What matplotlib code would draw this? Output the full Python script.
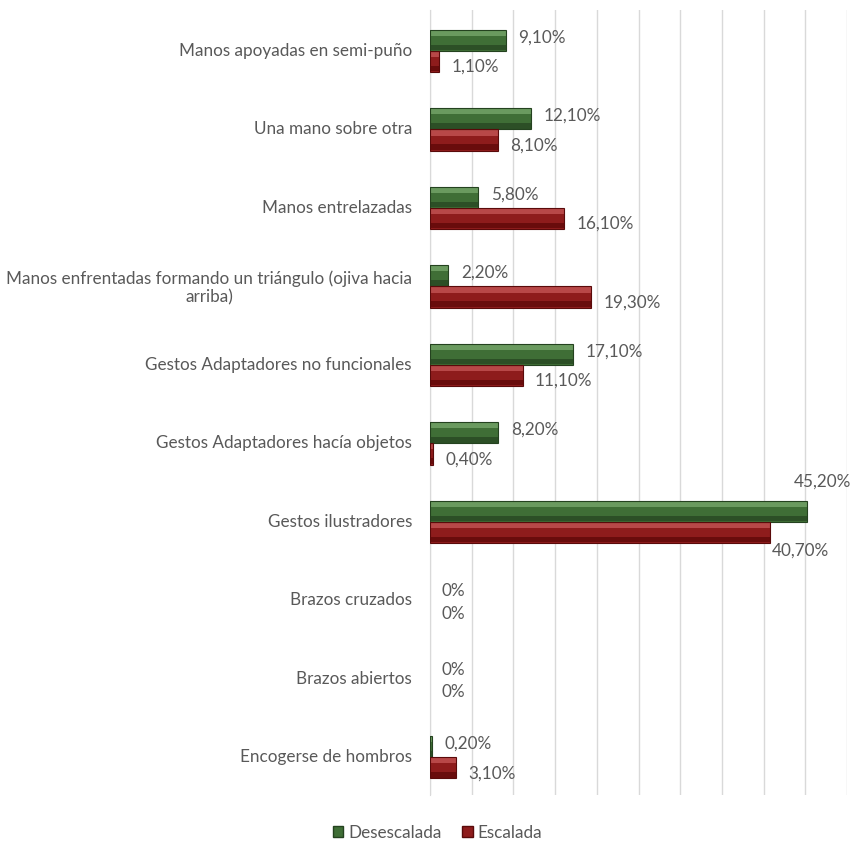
import matplotlib
matplotlib.use("Agg")
import matplotlib.pyplot as plt
import numpy as np
from matplotlib.patches import Patch

categories = [
    "Manos apoyadas en semi-puño",
    "Una mano sobre otra",
    "Manos entrelazadas",
    "Manos enfrentadas formando un triángulo (ojiva hacia\narriba)",
    "Gestos Adaptadores no funcionales",
    "Gestos Adaptadores hacía objetos",
    "Gestos ilustradores",
    "Brazos cruzados",
    "Brazos abiertos",
    "Encogerse de hombros",
]
desescalada = [9.1, 12.1, 5.8, 2.2, 17.1, 8.2, 45.2, 0.0, 0.0, 0.2]
escalada = [1.1, 8.1, 16.1, 19.3, 11.1, 0.4, 40.7, 0.0, 0.0, 3.1]
series_names = ["Desescalada", "Escalada"]

FONT = "Lato"
FS = 12.3
TXT = "#595959"

def fmt(v):
    if v == 0:
        return "0%"
    return f"{v:.2f}".replace(".", ",") + "%"

fig = plt.figure(figsize=(8.6, 8.43), dpi=100)
ax = fig.add_axes([0.5, 0.057, 0.485, 0.931])

y = np.arange(len(categories))
h = 0.27
styles = [
    (desescalada, -h / 2 + 0.02, ("#3f6e36", "#6a9a5f", "#2c4f26", "#24421f")),
    (escalada, h / 2 + 0.02, ("#8e1c1c", "#b84848", "#690c0c", "#5a0a0a")),
]
for vals, off, (mid, light, dark, edge) in styles:
    vals = np.asarray(vals)
    nz = vals > 0
    yy = (y + off)[nz]
    vv = vals[nz]
    ax.barh(yy, vv, height=h, color=mid, linewidth=0, zorder=3)
    # bevel: lighter top strip and darker bottom strip
    ax.barh(yy - h * 0.34, vv, height=h * 0.26, color=light, linewidth=0, zorder=4)
    ax.barh(yy + h * 0.34, vv, height=h * 0.26, color=dark, linewidth=0, zorder=4)
    ax.barh(yy, vv, height=h, color="none", edgecolor=edge, linewidth=0.8, zorder=5)

for i in range(len(categories)):
    dv, ev = desescalada[i], escalada[i]
    gy = y[i] - h / 2 + 0.02
    ry = y[i] + h / 2 + 0.02
    if dv > 40:
        ax.annotate(fmt(dv), (dv, gy), xytext=(11, 21), textcoords="offset points",
                    ha="center", va="center", fontsize=FS, color=TXT, family=FONT)
    elif dv == 0:
        ax.annotate(fmt(dv), (dv, gy), xytext=(8, -1), textcoords="offset points",
                    ha="left", va="center", fontsize=FS, color=TXT, family=FONT)
    else:
        ax.annotate(fmt(dv), (dv, gy), xytext=(9, 2), textcoords="offset points",
                    ha="left", va="center", fontsize=FS, color=TXT, family=FONT)
    if ev > 40:
        ax.annotate(fmt(ev), (ev, ry), xytext=(2, -13), textcoords="offset points",
                    ha="left", va="center", fontsize=FS, color=TXT, family=FONT)
    elif ev == 0:
        ax.annotate(fmt(ev), (ev, ry), xytext=(8, -2), textcoords="offset points",
                    ha="left", va="center", fontsize=FS, color=TXT, family=FONT)
    else:
        ax.annotate(fmt(ev), (ev, ry), xytext=(9, -4), textcoords="offset points",
                    ha="left", va="center", fontsize=FS, color=TXT, family=FONT)

ax.set_xlim(0, 50)
ax.set_ylim(len(categories) - 0.5, -0.5)
ax.set_xticks(np.arange(0, 51, 5))
ax.set_xticklabels([])
ax.tick_params(axis="x", length=0)
ax.set_yticks(y)
ax.set_yticklabels(categories, fontsize=FS, color=TXT, family=FONT, multialignment="center")
ax.tick_params(axis="y", length=0, pad=13)
ax.grid(axis="x", color="#d9d9d9", linewidth=1, zorder=0)
ax.set_axisbelow(True)
for s in ["top", "right", "bottom"]:
    ax.spines[s].set_visible(False)
ax.spines["left"].set_color("#d9d9d9")

handles = [Patch(facecolor="#3f6e36", edgecolor="#24421f"), Patch(facecolor="#8e1c1c", edgecolor="#5a0a0a")]
leg = fig.legend(handles, series_names, loc="center", bbox_to_anchor=(0.509, 0.012), ncol=2, frameon=False,
                 prop={"family": FONT, "size": FS}, handlelength=0.6, handleheight=0.6,
                 handletextpad=0.3, columnspacing=1.2)
for t in leg.get_texts():
    t.set_color(TXT)

fig.savefig("out.png", dpi=100)
